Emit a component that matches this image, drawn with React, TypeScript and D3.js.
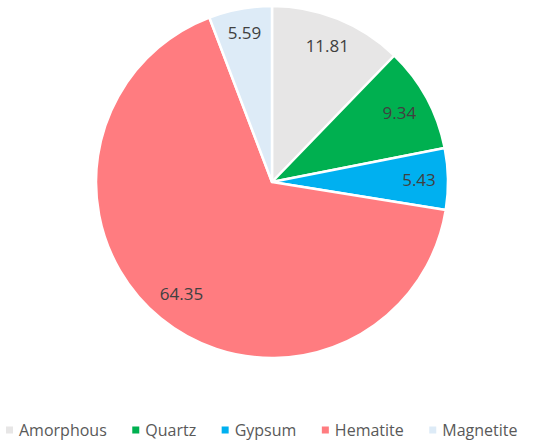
import React, { useEffect, useRef } from 'react';
import * as d3 from 'd3';

const categories = ['Amorphous', 'Quartz', 'Gypsum', 'Hematite', 'Magnetite'];
const values = [11.81, 9.34, 5.43, 64.35, 5.59];
const colors = ['#E7E6E6', '#00B050', '#00B0F0', '#FF7C80', '#DDEBF7'];

function App() {
    const svgRef = useRef<SVGSVGElement>(null);

    useEffect(() => {
        const width = 550;
        const height = 447;
        const cx = 272;
        const cy = 182;
        const radius = 176;
        const font = '"Open Sans", sans-serif';

        const svg = d3.select(svgRef.current)
            .attr('width', width)
            .attr('height', height);

        svg.selectAll('*').remove();

        const data = categories.map((c, i) => ({ name: c, value: values[i], color: colors[i] }));

        const pie = d3.pie<any>()
            .sort(null)
            .value(d => d.value);

        const arc = d3.arc<any>()
            .innerRadius(0)
            .outerRadius(radius);

        const arcs = pie(data);

        const g = svg.append('g')
            .attr('transform', `translate(${cx},${cy})`);

        g.selectAll('path.slice')
            .data(arcs)
            .enter()
            .append('path')
            .attr('class', 'slice')
            .attr('d', arc)
            .attr('fill', d => d.data.color)
            .attr('stroke', '#ffffff')
            .attr('stroke-width', 2.5)
            .attr('stroke-linejoin', 'round');

        // labels placed "inside end", like the spreadsheet does
        g.selectAll('text.label')
            .data(arcs)
            .enter()
            .append('text')
            .attr('class', 'label')
            .attr('text-anchor', 'middle')
            .attr('dominant-baseline', 'central')
            .attr('font-family', font)
            .attr('font-size', 17)
            .attr('fill', '#404040')
            .text(d => d.data.value.toFixed(2))
            .each(function (d) {
                const t = this as SVGTextElement;
                const w = t.getComputedTextLength();
                const a = (d.startAngle + d.endAngle) / 2;
                const s = Math.sin(a);
                const c = Math.cos(a);
                const inset = Math.abs(s) * w / 2 + Math.abs(c) * 9;
                const r = radius - 12 - inset;
                d3.select(t)
                    .attr('x', s * r)
                    .attr('y', -c * r);
            });

        // legend
        const legend = svg.append('g')
            .attr('transform', `translate(6,430)`);

        let x = 0;
        data.forEach(d => {
            legend.append('rect')
                .attr('x', x)
                .attr('y', -3.5)
                .attr('width', 7)
                .attr('height', 7)
                .attr('fill', d.color);
            const t = legend.append('text')
                .attr('x', x + 13)
                .attr('y', 0)
                .attr('dominant-baseline', 'central')
                .attr('font-family', font)
                .attr('font-size', 16)
                .attr('fill', '#595959')
                .text(d.name);
            const w = (t.node() as SVGTextElement).getComputedTextLength();
            x += 13 + w + 25.5;
        });
    }, []);

    return (
        <div style={{ position: 'absolute', left: 0, top: 0 }}>
            <svg ref={svgRef}></svg>
        </div>
    );
}

export default App;
